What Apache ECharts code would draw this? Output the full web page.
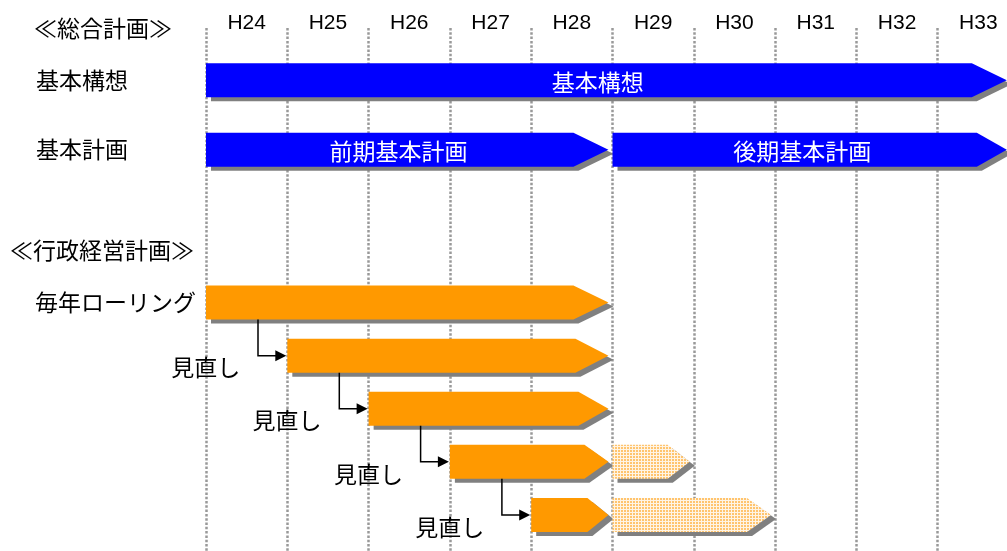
<!DOCTYPE html>
<html>
<head>
<meta charset="utf-8">
<script src="https://cdn.jsdelivr.net/npm/echarts@6/dist/echarts.min.js"></script>
<style>
  html, body { margin: 0; padding: 0; background: #ffffff; }
  #chart { width: 1007px; height: 551px; }
</style>
</head>
<body>
<div id="chart"></div>
<script>
// Fiscal years on the timeline (one band per year)
const years = ['H24', 'H25', 'H26', 'H27', 'H28', 'H29', 'H30', 'H31', 'H32', 'H33'];

// 総合計画: rows and bars (start / end measured in years from H24)
const planRows = ['基本構想', '基本計画'];
const planRow = [0, 1, 1];
const planStart = [0, 0, 5];
const planEnd = [9.85, 4.95, 9.85];
const planName = ['基本構想', '前期基本計画', '後期基本計画'];

// 行政経営計画: annual rolling review rows
const rollRows = ['毎年ローリング', '見直し', '見直し', '見直し', '見直し'];
const rollStart = [0, 1, 2, 3, 4];
const rollEnd = [4.95, 4.95, 4.95, 4.95, 4.95];
// dotted extensions beyond H28
const extRow = [3, 4];
const extStart = [5, 5];
const extEnd = [5.95, 6.95];

// drawing styles
const CJK = '"Noto Sans CJK JP", "Noto Sans CJK SC", sans-serif';
const CJK_SIZE = 23;
const BAR_H = 34;
const SHADOW_DX = 5, SHADOW_DY = 4;
const planHead = [35, 35, 30];
const rollHead = [35, 33, 30, 24, 21];
const extHead = [22, 24];

// light dotted fill for the extensions
function makeDotPattern() {
  const c = document.createElement('canvas');
  c.width = 3; c.height = 3;
  const ctx = c.getContext('2d');
  ctx.fillStyle = '#fff4e4';
  ctx.fillRect(0, 0, 3, 3);
  ctx.fillStyle = '#ffc46e';
  ctx.fillRect(0, 0, 2, 2);
  return { image: c, repeat: 'repeat' };
}
const dotFill = makeDotPattern();

function arrowShape(x0, x1, yc, h, head) {
  return [
    [x0, yc - h / 2], [x1 - head, yc - h / 2], [x1, yc],
    [x1 - head, yc + h / 2], [x0, yc + h / 2]
  ];
}
function shifted(pts) {
  return pts.map(p => [p[0] + SHADOW_DX, p[1] + SHADOW_DY]);
}
function arrowBar(api, row, s, e, head, fill, label) {
  const a = api.coord([s, row]);
  const b = api.coord([e, row]);
  const pts = arrowShape(a[0], b[0], a[1], BAR_H, head);
  const children = [
    { type: 'polygon', shape: { points: shifted(pts) }, style: { fill: '#808080' } },
    { type: 'polygon', shape: { points: pts }, style: { fill: fill } }
  ];
  if (label) {
    children.push({
      type: 'text',
      x: (a[0] + b[0] - head / 2) / 2,
      y: a[1] + 2,
      style: { text: label, fill: '#ffffff', font: CJK_SIZE + 'px ' + CJK, align: 'center', verticalAlign: 'middle' }
    });
  }
  return { type: 'group', children: children };
}

const chart = echarts.init(document.getElementById('chart'), null, { renderer: 'canvas' });

// all three grids share the same horizontal scale: 81.3px per year from x=206
const gridX = { left: 206, width: 813, outerBoundsMode: 'none' };

const option = {
  backgroundColor: '#ffffff',
  animation: false,
  grid: [
    Object.assign({ top: 28, bottom: 0 }, gridX),
    Object.assign({ top: 45.5, height: 139 }, gridX),
    Object.assign({ top: 276, height: 265.5 }, gridX)
  ],
  xAxis: [
    {
      gridIndex: 0, type: 'category', data: years, position: 'top', boundaryGap: true,
      axisLine: { show: false }, axisTick: { show: false },
      axisLabel: { margin: 5, verticalAlign: 'middle', color: '#000', fontSize: 21, fontFamily: '"Liberation Sans", Arial, sans-serif' },
      splitLine: { show: true, lineStyle: { color: '#999999', width: 2.5, type: [2.5, 1.8] } }
    },
    { gridIndex: 1, type: 'value', min: 0, max: 10, show: false },
    { gridIndex: 2, type: 'value', min: 0, max: 10, show: false }
  ],
  yAxis: [
    { gridIndex: 0, type: 'value', show: false },
    {
      gridIndex: 1, type: 'category', data: planRows, inverse: true,
      axisLine: { show: false }, axisTick: { show: false }, splitLine: { show: false },
      axisLabel: { align: 'left', margin: 170, color: '#000', fontSize: CJK_SIZE, fontFamily: CJK, padding: [4, 0, 0, 0] }
    },
    {
      gridIndex: 2, type: 'category', data: rollRows, inverse: true,
      axisLine: { show: false }, axisTick: { show: false }, splitLine: { show: false },
      axisLabel: {
        align: 'left', margin: 171, color: '#000', fontSize: CJK_SIZE, fontFamily: CJK, padding: [0, 0, 8, 0],
        formatter: (v, i) => (i === 0 ? v : '')
      }
    }
  ],
  graphic: [
    { type: 'text', left: 34, top: 17, style: { text: '≪総合計画≫', fill: '#000', font: CJK_SIZE + 'px ' + CJK } },
    { type: 'text', left: 10, top: 239, style: { text: '≪行政経営計画≫', fill: '#000', font: CJK_SIZE + 'px ' + CJK } }
  ],
  series: [
    {
      type: 'custom', xAxisIndex: 1, yAxisIndex: 1,
      data: planRow.map((r, i) => [r, planStart[i], planEnd[i], i]),
      renderItem: (params, api) => {
        const i = api.value(3);
        return arrowBar(api, api.value(0), api.value(1), api.value(2), planHead[i], '#0000ff', planName[i]);
      },
      encode: { x: [1, 2], y: 0 }
    },
    {
      type: 'custom', xAxisIndex: 2, yAxisIndex: 2,
      data: rollStart.map((s, i) => [i, s, rollEnd[i]]),
      renderItem: (params, api) => {
        const i = api.value(0);
        return arrowBar(api, i, api.value(1), api.value(2), rollHead[i], '#ff9900', null);
      },
      encode: { x: [1, 2], y: 0 }
    },
    {
      type: 'custom', xAxisIndex: 2, yAxisIndex: 2,
      data: extRow.map((r, i) => [r, extStart[i], extEnd[i], i]),
      renderItem: (params, api) => {
        const i = api.value(3);
        return arrowBar(api, api.value(0), api.value(1), api.value(2), extHead[i], dotFill, null);
      },
      encode: { x: [1, 2], y: 0 }
    },
    {
      // review connectors: elbow arrows from each row into the next one
      type: 'custom', xAxisIndex: 2, yAxisIndex: 2,
      data: rollStart.slice(1).map((s, k) => [k + 1, s, rollStart[k]]),
      renderItem: (params, api) => {
        const row = api.value(0);
        const cur = api.coord([api.value(1), row]);
        const prev = api.coord([api.value(2), row - 1]);
        const xc = prev[0] + 52;
        const xs = cur[0] - 1;
        return {
          type: 'group',
          children: [
            {
              type: 'polyline',
              shape: { points: [[xc, prev[1] + BAR_H / 2], [xc, cur[1]], [xs - 9, cur[1]]] },
              style: { stroke: '#000', lineWidth: 1.5, fill: null }
            },
            {
              type: 'polygon',
              shape: { points: [[xs - 11, cur[1] - 5.5], [xs, cur[1]], [xs - 11, cur[1] + 5.5]] },
              style: { fill: '#000' }
            },
            {
              type: 'text', x: cur[0] - 47, y: cur[1] + 12,
              style: { text: rollRows[row], fill: '#000', font: CJK_SIZE + 'px ' + CJK, align: 'right', verticalAlign: 'middle' }
            }
          ]
        };
      },
      encode: { x: 1, y: 0 }
    }
  ]
};

chart.setOption(option);
</script>
</body>
</html>
